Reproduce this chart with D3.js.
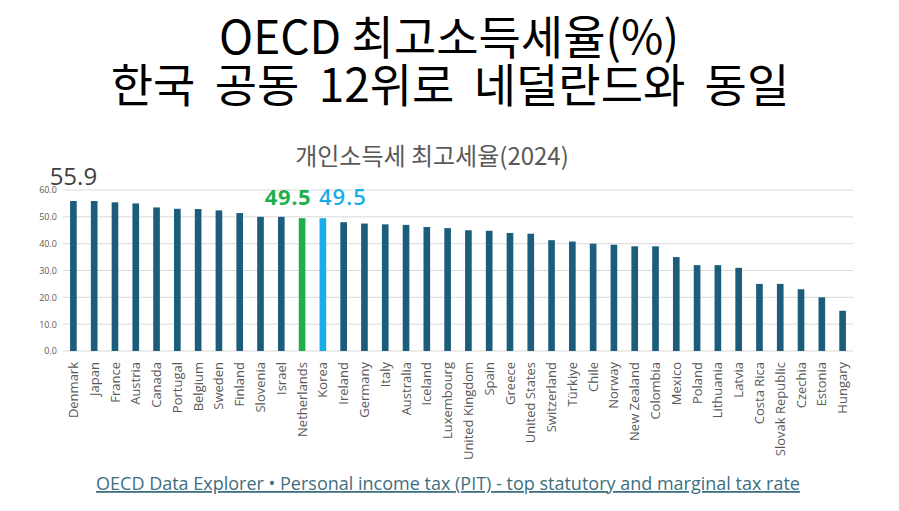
<!DOCTYPE html>
<html><head><meta charset="utf-8">
<script src="https://cdn.jsdelivr.net/npm/d3@7"></script>
<style>
html,body{margin:0;padding:0;background:#fff;}
svg{display:block;}
</style></head>
<body>
<svg id="c" width="899" height="511"></svg>
<script>
const countries = ["Denmark","Japan","France","Austria","Canada","Portugal","Belgium","Sweden","Finland","Slovenia","Israel","Netherlands","Korea","Ireland","Germany","Italy","Australia","Iceland","Luxembourg","United Kingdom","Spain","Greece","United States","Switzerland","Türkiye","Chile","Norway","New Zealand","Colombia","Mexico","Poland","Lithuania","Latvia","Costa Rica","Slovak Republic","Czechia","Estonia","Hungary"];
const rates = [55.9,55.9,55.4,55.0,53.5,53.0,52.9,52.4,51.4,50.0,50.0,49.5,49.5,48.0,47.5,47.2,47.0,46.2,45.8,45.0,44.8,44.0,43.7,41.3,40.8,40.0,39.6,39.0,39.0,35.0,32.0,32.0,31.0,25.0,25.0,23.0,20.0,15.0];
const yTicks = [0,10,20,30,40,50,60];
const highlight = {"Netherlands":"#1fb04c","Korea":"#19aee8"};
const titleLines = ["OECD 최고소득세율(%)","한국 공동 12위로 네덜란드와 동일"];
const subtitle = "개인소득세 최고세율(2024)";
const source = "OECD Data Explorer • Personal income tax (PIT) - top statutory and marginal tax rate";

const svg = d3.select("#c");
const pLeft = 63, pRight = 853, pTop = 190, pBottom = 351;
const x = d3.scaleBand().domain(countries).range([pLeft, pRight]).paddingInner(0.68).paddingOuter(0.34);
const y = d3.scaleLinear().domain([0,60]).range([pBottom, pTop]);

const kr = "'Noto Sans CJK KR','Noto Sans',sans-serif";
const lat = "'Open Sans',sans-serif";

// titles
svg.append("text").attr("x",449).attr("y",54).attr("text-anchor","middle")
  .attr("font-family",kr).attr("font-size",46).attr("fill","#000")
  .text(titleLines[0]);
svg.append("text").attr("x",450).attr("y",102).attr("text-anchor","middle")
  .attr("font-family",kr).attr("font-size",46).attr("word-spacing",9).attr("fill","#000")
  .text(titleLines[1]);
svg.append("text").attr("x",432).attr("y",165).attr("text-anchor","middle")
  .attr("font-family",kr).attr("font-size",24).attr("fill","#595959")
  .text(subtitle);

// gridlines
svg.append("g").selectAll("line").data(yTicks).join("line")
  .attr("x1",pLeft).attr("x2",pRight).attr("y1",d=>y(d)).attr("y2",d=>y(d))
  .attr("stroke","#d9d9d9").attr("stroke-width",1);

// y axis
const yAxis = d3.axisLeft(y).tickValues(yTicks).tickFormat(d3.format(".1f")).tickSize(0).tickPadding(6);
const gy = svg.append("g").attr("transform",`translate(${pLeft},0)`).call(yAxis);
gy.select(".domain").remove();
gy.selectAll("text").attr("font-family",lat).attr("font-size",9).attr("fill","#595959");

// bars
svg.append("g").selectAll("rect").data(countries).join("rect")
  .attr("x",d=>x(d)).attr("width",x.bandwidth())
  .attr("y",(d,i)=>y(rates[i])).attr("height",(d,i)=>y(0)-y(rates[i]))
  .attr("fill",d=>highlight[d]||"#1c5d7c");

// x axis labels
const xAxis = d3.axisBottom(x).tickSize(0).tickPadding(0);
const gx = svg.append("g").attr("transform",`translate(0,${pBottom})`).call(xAxis);
gx.select(".domain").remove();
gx.selectAll("text")
  .attr("font-family",lat).attr("font-size",13).attr("fill","#595959")
  .attr("text-anchor","end").attr("dy","0.35em")
  .attr("transform","translate(0,11) rotate(-90)").attr("x",0).attr("y",0);

// value labels
const iD = countries.indexOf("Denmark"), iN = countries.indexOf("Netherlands"), iK = countries.indexOf("Korea");
svg.append("text").attr("x",x("Denmark")+x.bandwidth()/2).attr("y",y(rates[iD])-16)
  .attr("text-anchor","middle").attr("font-family",lat).attr("font-size",24).attr("fill","#404040")
  .text(rates[iD].toFixed(1));
svg.append("text").attr("x",x("Netherlands")+x.bandwidth()/2-14).attr("y",y(rates[iN])-13)
  .attr("text-anchor","middle").attr("font-family",lat).attr("font-size",22).attr("font-weight","bold")
  .attr("letter-spacing",0.6).attr("fill","#1fb04c")
  .text(rates[iN].toFixed(1));
svg.append("text").attr("x",x("Korea")+x.bandwidth()/2+20).attr("y",y(rates[iK])-13)
  .attr("text-anchor","middle").attr("font-family",lat).attr("font-size",22).attr("font-weight",600)
  .attr("letter-spacing",1).attr("fill","#19aee8")
  .text(rates[iK].toFixed(1));

// source
svg.append("text").attr("x",448).attr("y",490).attr("text-anchor","middle")
  .attr("font-family",lat).attr("font-size",18).attr("fill","#3d6f80")
  .attr("text-decoration","underline").text(source);
</script>
</body></html>
